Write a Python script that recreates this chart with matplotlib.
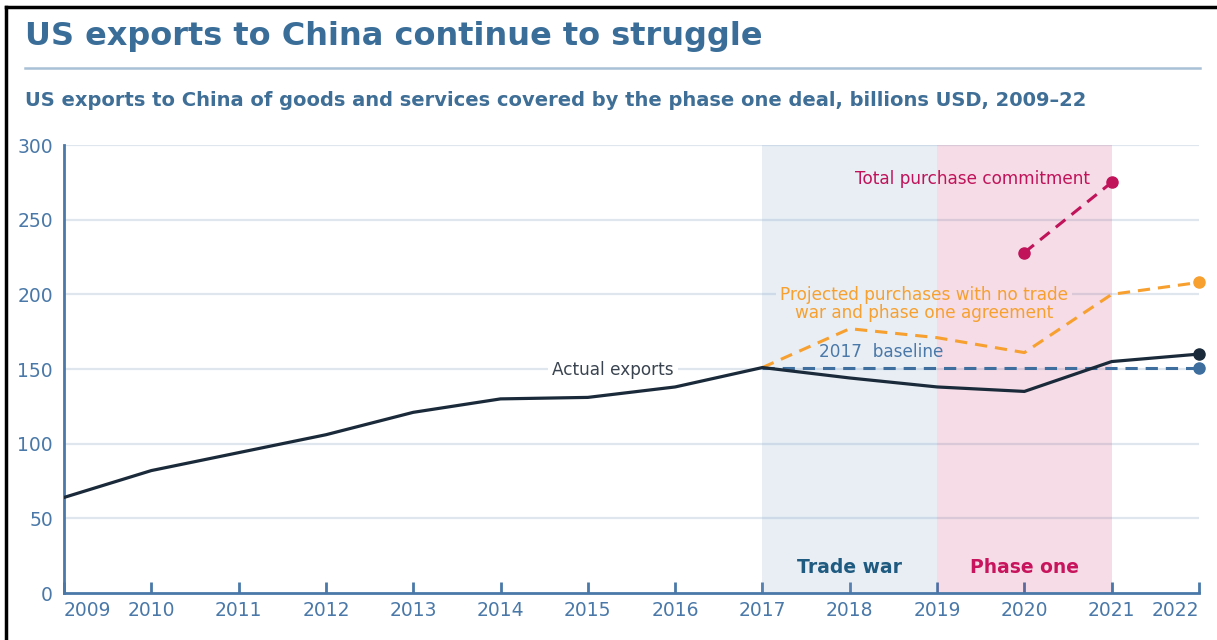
"""US exports to China vs. the phase one purchase commitments, 2009-22."""
import matplotlib
matplotlib.use("Agg")
import matplotlib.pyplot as plt
from matplotlib.lines import Line2D

plt.rcParams["font.family"] = ["DejaVu Sans"]

YEARS = list(range(2009, 2023))
ACTUAL = [64, 82, 94, 106, 121, 130, 131, 138, 151, 144, 138, 135, 155, 160]

PROJ_YEARS = [2017, 2018, 2019, 2020, 2021, 2022]
PROJECTED = [151, 177, 171, 161, 200, 208]
BASELINE = [151, 151, 151, 151, 151, 151]

COMMIT_YEARS = [2020, 2021]
COMMITMENT = [228, 275]

TRADE_WAR = (2017, 2019)
PHASE_ONE = (2019, 2021)

TITLE = "US exports to China continue to struggle"
SUBTITLE = ("US exports to China of goods and services covered by the phase one deal, "
            "billions USD, 2009\u201322")

BLUE = "#4a78a8"
NAVY = "#1b2a3a"
ORANGE = "#f7a030"
CRIMSON = "#c0135a"
GRID = "#dfe6ee"
DASH = (0, (4, 2.6))

fig = plt.figure(figsize=(12.17, 6.40), dpi=100)
ax = fig.add_axes([0.0526, 0.0734, 0.9326, 0.700])

# shaded periods (translucent so the gridlines stay faintly visible)
ax.axvspan(*TRADE_WAR, color="#8cadcc", alpha=0.2, lw=0, zorder=2)
ax.axvspan(*PHASE_ONE, color="#c2185b", alpha=0.15, lw=0, zorder=2)

for v in range(50, 301, 50):
    ax.axhline(v, color=GRID, lw=1.6, zorder=0.5)

ax.plot(PROJ_YEARS, BASELINE, color="#3d6e9e", lw=2.2, ls=DASH, zorder=4)
ax.plot(PROJ_YEARS, PROJECTED, color=ORANGE, lw=2.2, ls=DASH, zorder=4)
ax.plot(COMMIT_YEARS, COMMITMENT, color=CRIMSON, lw=2.2, ls=DASH, zorder=4)
ax.plot(YEARS, ACTUAL, color=NAVY, lw=2.3, zorder=5)

ax.plot(PROJ_YEARS[-1], BASELINE[-1], "o", color="#3d6e9e", ms=8, clip_on=False, zorder=6)
ax.plot(PROJ_YEARS[-1], PROJECTED[-1], "o", color=ORANGE, ms=8, clip_on=False, zorder=6)
ax.plot(YEARS[-1], ACTUAL[-1], "o", color=NAVY, ms=8, clip_on=False, zorder=6)
ax.plot(COMMIT_YEARS, COMMITMENT, "o", color=CRIMSON, ms=8, clip_on=False, zorder=6)


def label(x, y, s, color, ha="center", knockout=False, **kw):
    """Text label; knockout hides the gridline under it but keeps the shading."""
    if knockout:
        ax.text(x, y, s, ha=ha, va="center", fontsize=12.2, color="none",
                bbox=dict(fc="white", ec="none", pad=3), zorder=1, **kw)
    ax.text(x, y, s, ha=ha, va="center", fontsize=12.2, color=color, zorder=7, **kw)


label(2015.29, 149.3, "Actual exports", "#3a4450", knockout=True)
label(2018.36, 161.5, "2017  baseline", BLUE)
label(2018.85, 193.5, "Projected purchases with no trade\nwar and phase one agreement",
      ORANGE, knockout=True, linespacing=1.05)
label(2020.75, 277, "Total purchase commitment", CRIMSON, ha="right")

ax.text(sum(TRADE_WAR) / 2, 17.4, "Trade war", ha="center", va="center",
        fontsize=13.5, fontweight="bold", color="#1f5a80", zorder=7)
ax.text(sum(PHASE_ONE) / 2, 17.4, "Phase one", ha="center", va="center",
        fontsize=13.5, fontweight="bold", color="#c8145c", zorder=7)

ax.set_xlim(YEARS[0], YEARS[-1])
ax.set_ylim(0, 300)
ax.set_xticks(YEARS)
ax.set_xticklabels([str(y) for y in YEARS])
ax.set_yticks(range(0, 301, 50))

for side in ("top", "right"):
    ax.spines[side].set_visible(False)
for side in ("left", "bottom"):
    ax.spines[side].set_color(BLUE)
    ax.spines[side].set_linewidth(2)

ax.tick_params(axis="x", direction="in", length=8, width=2, color=BLUE,
               labelcolor=BLUE, labelsize=13.5, pad=6)
ax.tick_params(axis="y", length=0, labelcolor=BLUE, labelsize=13.5, pad=8)
ticklabels = ax.get_xticklabels()
ticklabels[0].set_ha("left")
ticklabels[-1].set_ha("right")

# heading block
fig.text(25 / 1217, 1 - 36 / 640, TITLE, ha="left", va="center",
         fontsize=23, fontweight="bold", color="#3a6e99")
fig.add_artist(Line2D([25 / 1217, 1200 / 1217], [1 - 68 / 640] * 2,
                      color="#a9c1d6", lw=1.8))
fig.text(25 / 1217, 1 - 100 / 640, SUBTITLE, ha="left", va="center",
         fontsize=14, fontweight="bold", color="#3f6e96")

# frame edges along the top and left
fig.add_artist(Line2D([6 / 1217, 1], [1 - 7 / 640] * 2, color="black", lw=2.5))
fig.add_artist(Line2D([6 / 1217] * 2, [0, 1 - 7 / 640], color="black", lw=2.5))

fig.savefig("out.png", dpi=100)
